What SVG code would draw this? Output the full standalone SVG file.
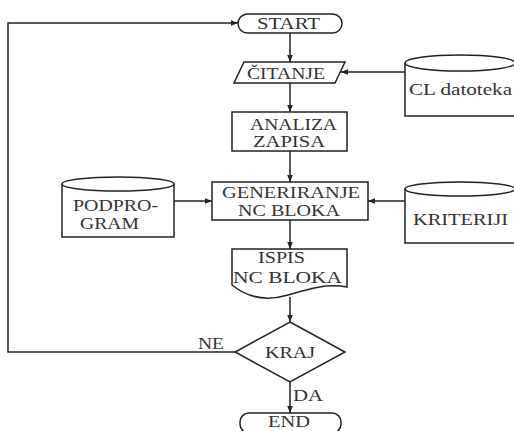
<svg xmlns="http://www.w3.org/2000/svg" width="514" height="431" viewBox="0 0 514 431">
<style>
.s{fill:#fff;stroke:#222;stroke-width:1.5}
.c{fill:none;stroke:#222;stroke-width:1.5}
text{font-family:"Liberation Serif","Times New Roman",serif;font-size:16px;fill:#333}
</style>
<defs>
<marker id="a" viewBox="0 0 10 10" refX="10" refY="5" markerWidth="7" markerHeight="7" orient="auto" markerUnits="userSpaceOnUse">
<path d="M0,1 L10,5 L0,9 z" fill="#222"/>
</marker>
</defs>
<rect width="514" height="431" fill="#fff"/>
<g id="connectors">
<path class="c" d="M235,352 H8 V23 H238" marker-end="url(#a)"/>
<path class="c" d="M290,33 V62" marker-end="url(#a)"/>
<path class="c" d="M405,72 H341" marker-end="url(#a)"/>
<path class="c" d="M290,83 V112" marker-end="url(#a)"/>
<path class="c" d="M290,151 V182" marker-end="url(#a)"/>
<path class="c" d="M174,201 H212" marker-end="url(#a)"/>
<path class="c" d="M405,201 H368" marker-end="url(#a)"/>
<path class="c" d="M290,220 V249" marker-end="url(#a)"/>
<path class="c" d="M290,297 V322" marker-end="url(#a)"/>
<path class="c" d="M290,382 V413" marker-end="url(#a)"/>
<text x="198" y="349" textLength="26" lengthAdjust="spacingAndGlyphs">NE</text>
<text x="293" y="401" textLength="30" lengthAdjust="spacingAndGlyphs">DA</text>
</g>
<g id="start">
<rect class="s" x="238" y="14" width="104" height="19" rx="9.5"/>
<text x="257" y="29" textLength="63" lengthAdjust="spacingAndGlyphs">START</text>
</g>
<g id="citanje">
<polygon class="s" points="244,62 345,62 335,83 234,83"/>
<text x="247" y="79" textLength="78" lengthAdjust="spacingAndGlyphs">ČITANJE</text>
</g>
<g id="cl-datoteka">
<path class="s" d="M405,63 V116 H515 V63"/>
<ellipse class="s" cx="460" cy="63" rx="55" ry="8"/>
<text x="409" y="95" textLength="103" lengthAdjust="spacingAndGlyphs">CL datoteka</text>
</g>
<g id="analiza">
<rect class="s" x="232" y="112" width="115" height="39"/>
<text x="250" y="130" textLength="87" lengthAdjust="spacingAndGlyphs">ANALIZA</text>
<text x="253" y="147" textLength="72" lengthAdjust="spacingAndGlyphs">ZAPISA</text>
</g>
<g id="generiranje">
<rect class="s" x="212" y="182" width="156" height="38"/>
<text x="222" y="198" textLength="138" lengthAdjust="spacingAndGlyphs">GENERIRANJE</text>
<text x="238" y="216" textLength="102" lengthAdjust="spacingAndGlyphs">NC BLOKA</text>
</g>
<g id="podprogram">
<path class="s" d="M62,184 V237 H174 V184"/>
<ellipse class="s" cx="118" cy="184" rx="56" ry="7"/>
<text x="73" y="211" textLength="85" lengthAdjust="spacingAndGlyphs">PODPRO-</text>
<text x="80" y="229" textLength="59" lengthAdjust="spacingAndGlyphs">GRAM</text>
</g>
<g id="kriteriji">
<path class="s" d="M405,189 V243 H515 V189"/>
<ellipse class="s" cx="460" cy="189" rx="55" ry="7"/>
<text x="413" y="225" textLength="95" lengthAdjust="spacingAndGlyphs">KRITERIJI</text>
</g>
<g id="ispis">
<path class="s" d="M232,249 H347 V287 C325,283 305,290 288,295 C268,301 248,298 232,285 Z"/>
<text x="258" y="263" textLength="47" lengthAdjust="spacingAndGlyphs">ISPIS</text>
<text x="233" y="283" textLength="109" lengthAdjust="spacingAndGlyphs">NC BLOKA</text>
</g>
<g id="kraj">
<polygon class="s" points="290,322 345,352 290,382 235,352"/>
<text x="265" y="358" textLength="50" lengthAdjust="spacingAndGlyphs">KRAJ</text>
</g>
<g id="end">
<rect class="s" x="240" y="413" width="101" height="20" rx="9"/>
<text x="268" y="427" textLength="42" lengthAdjust="spacingAndGlyphs">END</text>
</g>
</svg>
